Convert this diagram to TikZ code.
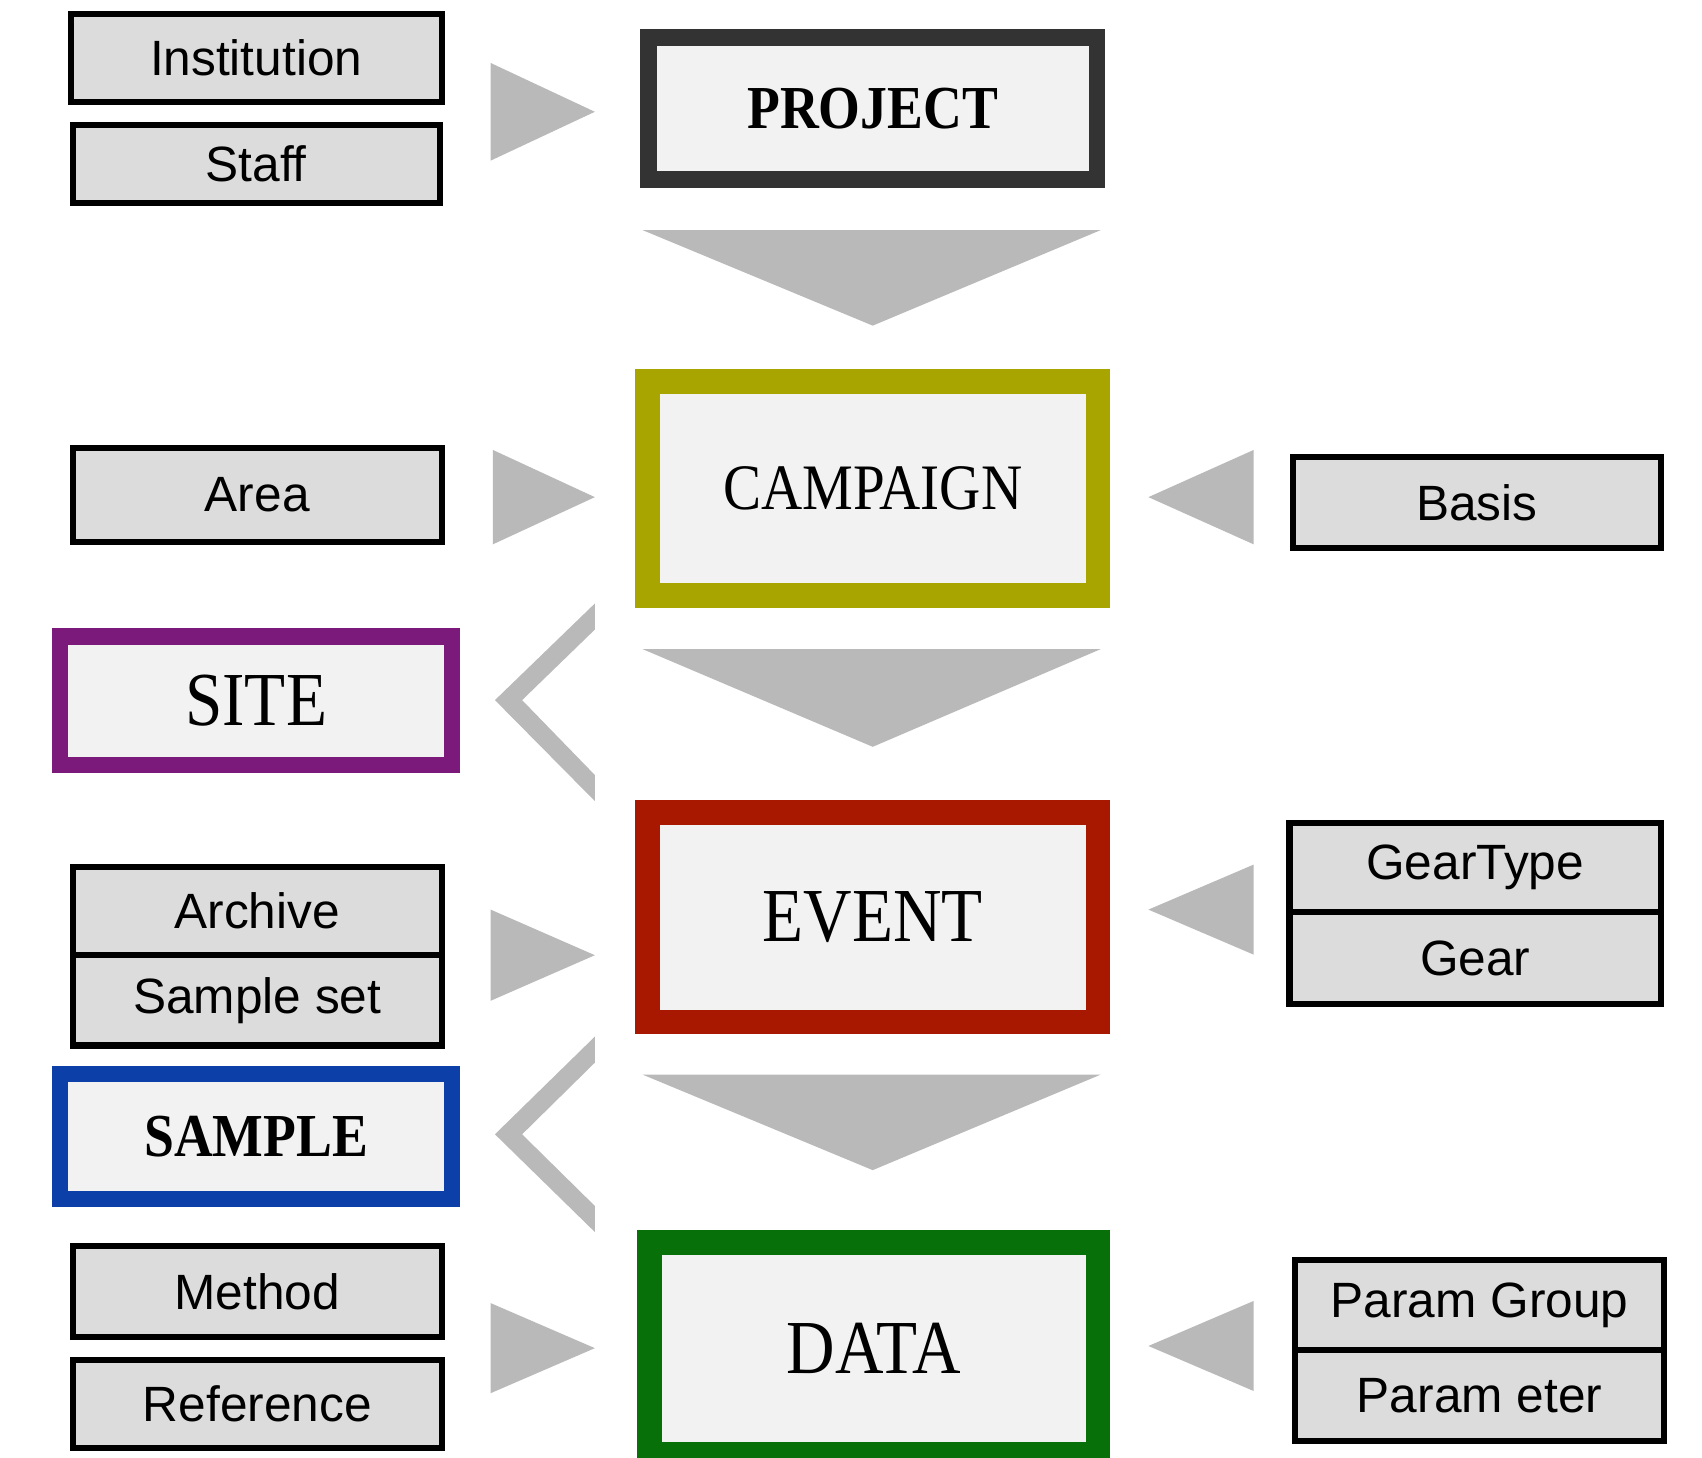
\documentclass[tikz,border=0pt]{standalone}
\usepackage{fontspec}
\newfontfamily\entfont[FakeStretch=0.88]{Liberation Serif}
\newfontfamily\tabfont{Liberation Sans}
\usetikzlibrary{positioning}

\definecolor{arrgray}{HTML}{B9B9B9}
\definecolor{tabfill}{HTML}{DCDCDC}
\definecolor{entfill}{HTML}{F2F2F2}
\definecolor{projcol}{HTML}{333333}
\definecolor{campcol}{HTML}{A8A400}
\definecolor{sitecol}{HTML}{7B1A7B}
\definecolor{eventcol}{HTML}{A81800}
\definecolor{samplecol}{HTML}{0C40A8}
\definecolor{datacol}{HTML}{087008}

\begin{document}
\begin{tikzpicture}[
	entbox/.style={draw, fill=entfill, align=center},
	tabbox/.style={draw=black, line width=1.6pt, fill=tabfill, font=\tabfont\fontsize{13}{15}\selectfont},
	arr/.style={fill=arrgray}]

	\useasboundingbox (0,0) rectangle (15.68,-13.43);
	\fill[white] (0,0) rectangle (15.68,-13.43);

	% main column
	\node[entbox, draw=projcol, line width=4.27pt, minimum width=4.13cm, minimum height=1.31cm,
		font=\entfont\fontsize{16}{18}\selectfont\bfseries] (proj) at (8.04,-1.00) {PROJECT};
	\node[entbox, draw=campcol, line width=6.5pt, minimum width=4.15cm, minimum height=1.97cm,
		font=\entfont\fontsize{17}{19}\selectfont] (camp) at (8.04,-4.50) {CAMPAIGN};
	\node[entbox, draw=eventcol, line width=6.5pt, minimum width=4.15cm, minimum height=1.93cm,
		font=\entfont\fontsize{20}{22}\selectfont] (event) at (8.04,-8.45) {EVENT};
	\node[entbox, draw=datacol, line width=6.5pt, minimum width=4.13cm, minimum height=1.95cm,
		font=\entfont\fontsize{20}{22}\selectfont] (data) at (8.05,-12.42) {DATA};

	% left column
	\node[tabbox, minimum width=3.42cm, minimum height=0.81cm] (inst) at (2.36,-0.535) {Institution};
	\node[tabbox, minimum width=3.38cm, minimum height=0.72cm] (staff) at (2.36,-1.51) {Staff};
	\node[tabbox, minimum width=3.40cm, minimum height=0.86cm] (area) at (2.37,-4.56) {Area};
	\node[entbox, draw=sitecol, line width=4.27pt, minimum width=3.61cm, minimum height=1.18cm,
		font=\entfont\fontsize{20}{22}\selectfont] (site) at (2.36,-6.455) {SITE};
	\node[tabbox, minimum width=3.40cm, minimum height=0.812cm] (arch) at (2.37,-8.394) {Archive};
	\node[tabbox, minimum width=3.40cm, minimum height=0.832cm] (sset) at (2.37,-9.216) {Sample set};
	\node[entbox, draw=samplecol, line width=4.27pt, minimum width=3.61cm, minimum height=1.15cm,
		font=\entfont\fontsize{16}{18}\selectfont\bfseries] (sample) at (2.36,-10.47) {SAMPLE};
	\node[tabbox, minimum width=3.40cm, minimum height=0.84cm] (meth) at (2.37,-11.90) {Method};
	\node[tabbox, minimum width=3.40cm, minimum height=0.81cm] (ref) at (2.37,-12.935) {Reference};

	% right column
	\node[tabbox, minimum width=3.39cm, minimum height=0.84cm] (basis) at (13.605,-4.63) {Basis};
	\node[tabbox, minimum width=3.42cm, minimum height=0.822cm] (gtype) at (13.59,-7.989) {GearType};
	\node[tabbox, minimum width=3.42cm, minimum height=0.852cm] (gear) at (13.59,-8.826) {Gear};
	\node[tabbox, minimum width=3.40cm, minimum height=0.832cm] (pgroup) at (13.63,-12.024) {Param Group};
	\node[tabbox, minimum width=3.40cm, minimum height=0.832cm] (param) at (13.63,-12.856) {Param eter};

	% tips of the wedges
	\coordinate (tinst) at (5.48,-1.03);
	\coordinate (tarea) at (5.48,-4.58);
	\coordinate (tarch) at (5.48,-8.80);
	\coordinate (tmeth) at (5.48,-12.42);
	\coordinate (tbasis) at (10.58,-4.58);
	\coordinate (tgear) at (10.58,-8.38);
	\coordinate (tparam) at (10.58,-12.40);
	\coordinate (tproj) at (8.04,-3.00);
	\coordinate (tcamp) at (8.04,-6.88);
	\coordinate (tevent) at (8.04,-10.78);

	% wedges pointing right
	\fill[arr] (tinst) -- ++(-0.96,0.45) -- ++(0,-0.90) -- cycle;
	\fill[arr] (tarea) -- ++(-0.94,0.435) -- ++(0,-0.87) -- cycle;
	\fill[arr] (tarch) -- ++(-0.96,0.42) -- ++(0,-0.84) -- cycle;
	\fill[arr] (tmeth) -- ++(-0.96,0.415) -- ++(0,-0.83) -- cycle;

	% wedges pointing left
	\fill[arr] (tbasis) -- ++(0.97,0.435) -- ++(0,-0.87) -- cycle;
	\fill[arr] (tgear) -- ++(0.97,0.415) -- ++(0,-0.83) -- cycle;
	\fill[arr] (tparam) -- ++(0.97,0.415) -- ++(0,-0.83) -- cycle;

	% wedges pointing down
	\fill[arr] (tproj) -- ++(-2.12,0.88) -- ++(4.22,0) -- cycle;
	\fill[arr] (tcamp) -- ++(-2.12,0.90) -- ++(4.22,0) -- cycle;
	\fill[arr] (tevent) -- ++(-2.12,0.88) -- ++(4.22,0) -- cycle;

	% chevrons towards SITE and SAMPLE
	\fill[arr] (5.48,-5.56) -- (4.56,-6.45) -- (5.48,-7.38) -- (5.48,-7.14) -- (4.81,-6.45) -- (5.48,-5.80) -- cycle;
	\fill[arr] (5.48,-9.55) -- (4.56,-10.45) -- (5.48,-11.35) -- (5.48,-11.11) -- (4.81,-10.45) -- (5.48,-9.79) -- cycle;

\end{tikzpicture}
\end{document}
